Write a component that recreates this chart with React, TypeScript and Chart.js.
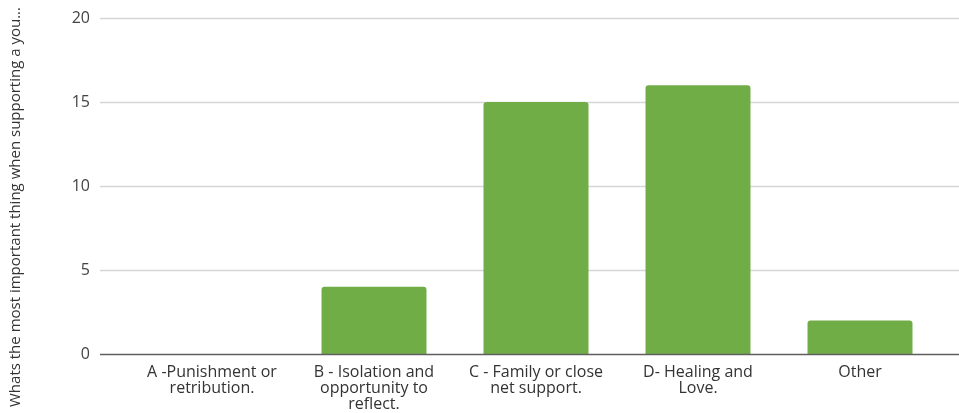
import React, { useEffect, useRef } from "react";
import { Chart, registerables } from "chart.js";

Chart.register(...registerables);

const categories: string[][] = [
  ["A -Punishment or", "retribution."],
  ["B - Isolation and", "opportunity to", "reflect."],
  ["C - Family or close", "net support."],
  ["D- Healing and", "Love."],
  ["Other"],
];
const counts: number[] = [0, 4, 15, 16, 2];
const yTicks: number[] = [0, 5, 10, 15, 20];
const yTitle = "Whats the most important thing when supporting a you...";

const FONT = "'Open Sans', 'DejaVu Sans', sans-serif";

export default function App() {
  const ref = useRef<HTMLCanvasElement | null>(null);

  useEffect(() => {
    document.body.style.margin = "0";
    const canvas = ref.current;
    if (!canvas) return;

    const gridPlugin = {
      id: "fullGrid",
      beforeDatasetsDraw(chart: any) {
        const ctx = chart.ctx;
        const y = chart.scales.y;
        ctx.save();
        ctx.strokeStyle = "#d6d6d6";
        ctx.lineWidth = 1.5;
        for (const v of yTicks) {
          if (v === 0) continue;
          const py = Math.round(y.getPixelForValue(v)) + 0.5;
          ctx.beginPath();
          ctx.moveTo(100, py);
          ctx.lineTo(chart.width, py);
          ctx.stroke();
        }
        ctx.restore();
      },
      afterDatasetsDraw(chart: any) {
        const ctx = chart.ctx;
        const y = chart.scales.y;
        ctx.save();
        ctx.strokeStyle = "#5f5f5f";
        ctx.lineWidth = 1.5;
        const py = Math.round(y.getPixelForValue(0)) + 0.5;
        ctx.beginPath();
        ctx.moveTo(100, py);
        ctx.lineTo(chart.width, py);
        ctx.stroke();
        // rotated axis title
        ctx.translate(16, 207);
        ctx.rotate(-Math.PI / 2);
        ctx.fillStyle = "#333333";
        ctx.font = `15px ${FONT}`;
        ctx.textAlign = "center";
        ctx.textBaseline = "middle";
        ctx.fillText(yTitle, 0, 0);
        ctx.restore();
      },
    };

    const chart = new Chart(canvas, {
      type: "bar",
      data: {
        labels: categories,
        datasets: [
          {
            data: counts,
            backgroundColor: "#70ad47",
            borderRadius: { topLeft: 3, topRight: 3, bottomLeft: 0, bottomRight: 0 },
            borderSkipped: "bottom",
            categoryPercentage: 1,
            barPercentage: 0.648,
          },
        ],
      },
      options: {
        animation: false,
        responsive: false,
        maintainAspectRatio: false,
        devicePixelRatio: 1,
        layout: { padding: { top: 18, right: 18, bottom: 0, left: 0 } },
        plugins: {
          legend: { display: false },
          tooltip: { enabled: false },
          title: { display: false },
        },
        scales: {
          x: {
            type: "category",
            grid: { display: false, drawTicks: false },
            border: { display: false },
            ticks: {
              color: "#333333",
              font: { family: FONT, size: 16, lineHeight: 1.0 },
              padding: 10,
              maxRotation: 0,
              autoSkip: false,
            },
            afterFit(scale: any) {
              scale.height = 59;
            },
          },
          y: {
            type: "linear",
            min: 0,
            max: 20,
            grid: { display: false, drawTicks: true, tickLength: 33 },
            border: { display: false },
            ticks: {
              stepSize: 5,
              color: "#444444",
              font: { family: FONT, size: 16 },
              padding: 8,
            },
            afterFit(scale: any) {
              scale.width = 131;
            },
          },
        },
      },
      plugins: [gridPlugin],
    } as any);

    return () => chart.destroy();
  }, []);

  return (
    <div style={{ position: "absolute", left: 0, top: 0, width: 959, height: 413, background: "#ffffff" }}>
      <canvas ref={ref} width={959} height={413} style={{ width: 959, height: 413, display: "block" }} />
    </div>
  );
}
